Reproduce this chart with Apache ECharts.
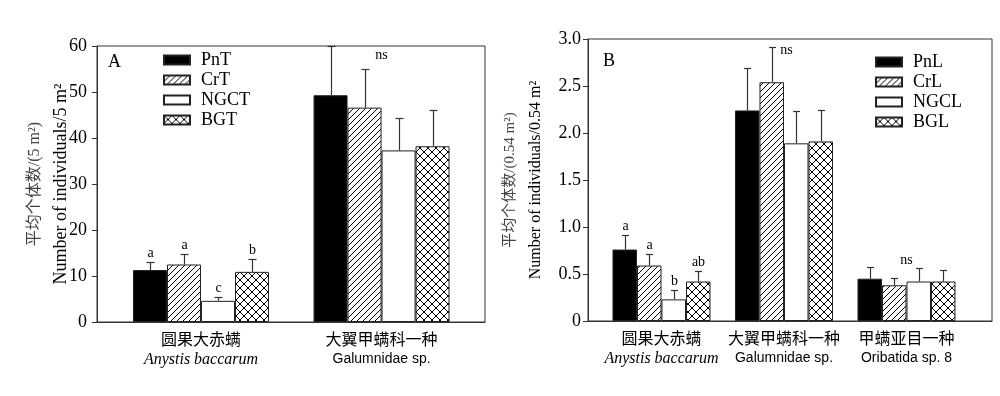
<!DOCTYPE html>
<html>
<head>
<meta charset="utf-8">
<title>mites</title>
<script src="https://cdn.jsdelivr.net/npm/echarts@6/dist/echarts.min.js"></script>
</head>
<body style="margin:0;background:#fff">
<div id="main" style="width:1000px;height:396px;"></div>
<script type="text/javascript">
// panel A (traps, per 5 m2)
var catA = ['圆果大赤螨', '大翼甲螨科一种'];
var latA = ['Anystis baccarum', 'Galumnidae sp.'];
var namesA = ['PnT', 'CrT', 'NGCT', 'BGT'];
var meanA = [[11.3, 49.3], [12.5, 46.6], [4.6, 37.3], [10.9, 38.2]];
var upA = [[13.0, 60.1], [14.8, 54.9], [5.5, 44.3], [13.8, 46.0]];
var sigA = [['a', ''], ['a', ''], ['c', ''], ['b', '']];
var nsA = [[2, 58]];

// panel B (litter, per 0.54 m2)
var catB = ['圆果大赤螨', '大翼甲螨科一种', '甲螨亚目一种'];
var latB = ['Anystis baccarum', 'Galumnidae sp.', 'Oribatida sp. 8'];
var namesB = ['PnL', 'CrL', 'NGCL', 'BGL'];
var meanB = [[0.76, 2.24, 0.45], [0.59, 2.54, 0.38], [0.23, 1.89, 0.42], [0.42, 1.91, 0.42]];
var upB = [[0.92, 2.69, 0.57], [0.71, 2.92, 0.46], [0.33, 2.23, 0.56], [0.53, 2.25, 0.54]];
var sigB = [['a', '', ''], ['a', '', ''], ['b', '', ''], ['ab', '', '']];
var nsB = [[2.02, 2.88], [3, 0.65]];

var SERIF = '"Liberation Serif", "Noto Sans CJK SC", serif';
var CJK = '"Noto Sans CJK SC", sans-serif';

function tile(size, cross) {
    var c = document.createElement('canvas');
    c.width = c.height = size;
    var g = c.getContext('2d');
    g.fillStyle = '#fff';
    g.fillRect(0, 0, size, size);
    g.strokeStyle = '#000';
    g.lineWidth = 1;
    g.beginPath();
    for (var k = -1; k <= 1; k++) {
        g.moveTo(k * size, size); g.lineTo(k * size + size, 0);
        if (cross) { g.moveTo(k * size, 0); g.lineTo(k * size + size, size); }
    }
    g.stroke();
    return c;
}
var fills = ['#000', {image: tile(6, false), repeat: 'repeat'}, '#fff', {image: tile(8, true), repeat: 'repeat'}];

function panel(idx, names, mean, up, sig, ns, barW, cap) {
    var out = [];
    names.forEach(function (n, s) {
        out.push({
            name: n, type: 'bar', xAxisIndex: idx, yAxisIndex: idx,
            barWidth: barW, barGap: '0%',
            itemStyle: {color: fills[s], borderColor: '#222', borderWidth: 1},
            data: mean[s].map(function (v, i) { return [i + 1, v]; })
        });
    });
    var eb = [], lab = [];
    mean.forEach(function (row, s) {
        row.forEach(function (v, i) {
            eb.push([i + 1, v, up[s][i], s]);
            lab.push(sig[s][i]);
        });
    });
    out.push({
        type: 'custom', xAxisIndex: idx, yAxisIndex: idx, z: 5, silent: true,
        data: eb,
        renderItem: function (params, api) {
            var x = api.value(0), s = api.value(3);
            var p0 = api.coord([x, api.value(1)]);
            var p1 = api.coord([x, api.value(2)]);
            var cx = Math.round(p0[0] + (s - 1.5) * barW) + 0.5;
            var ty = Math.round(p1[1]) + 0.5;
            var st = {stroke: '#333', lineWidth: 1.2};
            return {type: 'group', children: [
                {type: 'line', shape: {x1: cx, y1: p0[1], x2: cx, y2: ty}, style: st},
                {type: 'line', shape: {x1: cx - cap / 2, y1: ty, x2: cx + cap / 2, y2: ty}, style: st},
                {type: 'text', x: cx, y: ty - 2, style: {text: lab[params.dataIndex], fontFamily: SERIF, fontSize: 14,
                    fill: '#000', align: 'center', verticalAlign: 'bottom'}}
            ]};
        }
    });
    out.push({
        type: 'custom', xAxisIndex: idx, yAxisIndex: idx, z: 5, silent: true,
        data: ns,
        renderItem: function (params, api) {
            var pt = api.coord([api.value(0), api.value(1)]);
            return {type: 'text', x: pt[0], y: pt[1], style: {text: 'ns', fontFamily: SERIF, fontSize: 14,
                fill: '#000', align: 'center', verticalAlign: 'middle'}};
        }
    });
    return out;
}

function xLab(cat, lat) {
    return function (v) {
        var i = Math.round(v) - 1;
        var st = i === 0 ? 'it' : 'sf';
        return '{cn|' + cat[i] + '}\n{' + st + '|' + lat[i] + '}';
    };
}
var xRich = {
    cn: {fontFamily: CJK, fontSize: 16, lineHeight: 21, color: '#000'},
    it: {fontFamily: SERIF, fontStyle: 'italic', fontSize: 16, lineHeight: 21, color: '#000'},
    sf: {fontFamily: '"Liberation Sans", sans-serif', fontSize: 14, lineHeight: 21, color: '#000'}
};
var nameRich = function (cnSize, enSize) {
    return {
        cn: {fontFamily: SERIF, fontSize: cnSize, color: '#444', lineHeight: 26},
        en: {fontFamily: SERIF, fontSize: enSize, color: '#000', lineHeight: 26}
    };
};
var axisLine = {lineStyle: {color: '#333', width: 1}};
var legendText = {fontFamily: SERIF, fontSize: 18, color: '#000', padding: [0, 0, 0, 6]};

var myChart = echarts.init(document.getElementById('main'));
var option = {
    animation: false,
    backgroundColor: '#fff',
    title: [
        {text: 'A', left: 108, top: 53, padding: 0, textStyle: {fontFamily: SERIF, fontSize: 18, fontWeight: 'normal', color: '#000'}},
        {text: 'B', left: 603, top: 52, padding: 0, textStyle: {fontFamily: SERIF, fontSize: 18, fontWeight: 'normal', color: '#000'}}
    ],
    legend: [
        {data: namesA, orient: 'vertical', left: 163, top: 51, padding: 0, itemWidth: 26, itemHeight: 9, itemGap: 2,
            icon: 'rect', selectedMode: false, textStyle: legendText},
        {data: namesB, orient: 'vertical', left: 875, top: 53, padding: 0, itemWidth: 26, itemHeight: 9, itemGap: 2,
            icon: 'rect', selectedMode: false, textStyle: legendText}
    ],
    grid: [
        {left: 97, top: 46, width: 388, height: 276, show: true, borderColor: '#333', borderWidth: 1},
        {left: 588, top: 39, width: 404, height: 282, show: true, borderColor: '#333', borderWidth: 1}
    ],
    xAxis: [
        {gridIndex: 0, type: 'value', min: 0.424, max: 2.573, axisLine: axisLine, axisTick: {show: false},
            splitLine: {show: false},
            axisLabel: {customValues: [1, 2], formatter: xLab(catA, latA), rich: xRich, margin: 6}},
        {gridIndex: 1, type: 'value', min: 0.4, max: 3.698, axisLine: axisLine, axisTick: {show: false},
            splitLine: {show: false},
            axisLabel: {customValues: [1, 2, 3], formatter: xLab(catB, latB), rich: xRich, margin: 6}}
    ],
    yAxis: [
        {gridIndex: 0, type: 'value', min: 0, max: 60, interval: 10,
            axisLine: {show: true, lineStyle: {color: '#333'}}, axisTick: {show: true, length: 5, lineStyle: {color: '#333'}},
            splitLine: {show: false},
            axisLabel: {fontFamily: SERIF, fontSize: 18, color: '#000', margin: 10},
            name: '{cn|平均个体数/(5 m²)}\n{en|Number of individuals/5 m²}',
            nameLocation: 'middle', nameRotate: 90, nameGap: 23, nameMoveOverlap: false,
            nameTextStyle: {rich: nameRich(16, 18)}},
        {gridIndex: 1, type: 'value', min: 0, max: 3, interval: 0.5,
            axisLine: {show: true, lineStyle: {color: '#333'}}, axisTick: {show: true, length: 5, lineStyle: {color: '#333'}},
            splitLine: {show: false},
            axisLabel: {fontFamily: SERIF, fontSize: 18, color: '#000', margin: 7,
                formatter: function (v) { return v === 0 ? '0' : v.toFixed(1); }},
            name: '{cn|平均个体数/(0.54 m²)}\n{en|Number of individuals/0.54 m²}',
            nameLocation: 'middle', nameRotate: 90, nameGap: 39, nameMoveOverlap: false,
            nameTextStyle: {rich: nameRich(15, 16)}}
    ],
    series: panel(0, namesA, meanA, upA, sigA, nsA, 34, 8)
        .concat(panel(1, namesB, meanB, upB, sigB, nsB, 24.5, 7))
};
myChart.setOption(option);
</script>
</body>
</html>
